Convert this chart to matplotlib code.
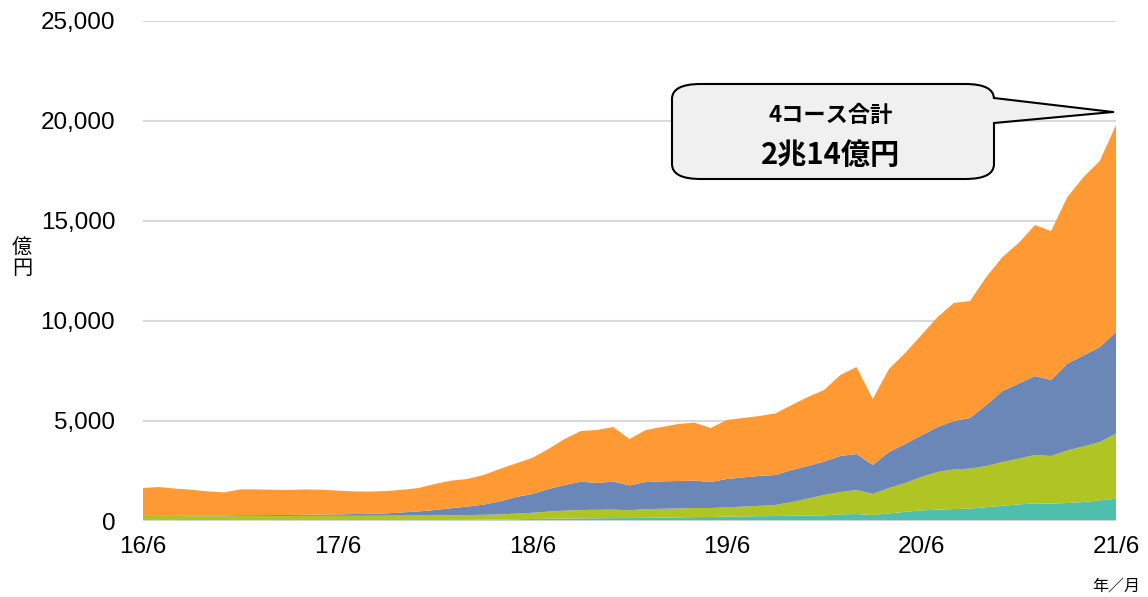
import matplotlib
matplotlib.use("Agg")
import matplotlib.pyplot as plt
import numpy as np
from matplotlib.patches import FancyBboxPatch, Polygon
from matplotlib.lines import Line2D

plt.rcParams['font.family'] = ['Liberation Sans', 'Noto Sans CJK JP', 'DejaVu Sans']

# monthly, 2016/6 .. 2021/6  (億円)
months = np.arange(61)
tick_pos = [0, 12, 24, 36, 48, 60]
tick_labels = ["16/6", "17/6", "18/6", "19/6", "20/6", "21/6"]

course_a = [20, 20, 20, 20, 20, 20, 22, 22, 24, 25, 26, 28, 30, 32, 34, 36, 40, 44, 48, 52,
            56, 62, 72, 85, 100, 112, 122, 130, 138, 145, 145, 160, 170, 180, 195, 200, 220, 230, 240, 250,
            262, 272, 285, 330, 350, 300, 380, 460, 530, 570, 600, 620, 690, 760, 830, 880, 870, 900, 950, 1030,
            1120]
course_b = [230, 230, 230, 225, 225, 220, 228, 228, 231, 230, 232, 232, 230, 230, 231, 232, 232, 234, 237, 243,
            244, 248, 258, 285, 310, 358, 398, 420, 422, 425, 395, 430, 440, 450, 455, 450, 460, 490, 520, 550,
            688, 848, 1015, 1120, 1200, 1050, 1270, 1440, 1670, 1880, 1980, 2000, 2060, 2190, 2290, 2420, 2380, 2630, 2780, 2920,
            3250]
course_c = [30, 30, 30, 35, 35, 40, 40, 40, 45, 45, 52, 60, 70, 88, 95, 112, 158, 202, 265, 345,
            420, 510, 650, 830, 940, 1130, 1280, 1420, 1340, 1400, 1240, 1360, 1370, 1370, 1370, 1300, 1420, 1460, 1490, 1500,
            1600, 1630, 1670, 1800, 1800, 1450, 1800, 1950, 2080, 2250, 2420, 2530, 3050, 3550, 3750, 3950, 3800, 4340, 4550, 4750,
            5080]
course_d = [1370, 1420, 1340, 1280, 1200, 1150, 1290, 1290, 1260, 1250, 1270, 1240, 1190, 1130, 1110, 1120, 1130, 1170, 1300, 1380,
            1380, 1480, 1620, 1680, 1800, 2000, 2300, 2530, 2650, 2730, 2320, 2600, 2720, 2850, 2900, 2700, 2950, 2970, 3000, 3080,
            3250, 3450, 3580, 4050, 4350, 3300, 4150, 4550, 5020, 5500, 5900, 5850, 6400, 6700, 7030, 7550, 7450, 8330, 8920, 9300,
            10350]

colors = ["#4FBFAD", "#B0C424", "#6A87B8", "#FF9933"]

W, H = 1148, 597
fig = plt.figure(figsize=(W / 100, H / 100), dpi=100)
ax = fig.add_axes([143 / W, 1 - 521 / H, (1116 - 143) / W, (521 - 21) / H])

ax.stackplot(months, course_a, course_b, course_c, course_d, colors=colors, linewidth=0, zorder=2)

ax.set_xlim(0, 60)
ax.set_ylim(0, 25000)
ax.set_yticks(range(0, 25001, 5000))
ax.set_yticklabels([f"{v:,}" for v in range(0, 25001, 5000)])
ax.set_xticks(tick_pos)
ax.set_xticklabels(tick_labels)
ax.tick_params(length=0, labelsize=17.5, colors="black")
ax.tick_params(axis="y", pad=20)
ax.tick_params(axis="x", pad=11)
ax.grid(axis="y", color="#D9D9D9", linewidth=1.5, zorder=0)
for s in ax.spines.values():
    s.set_visible(False)
ax.axhline(0, color="#D9D9D9", linewidth=2, zorder=3)

fig.text(22 / W, 1 - 258 / H, "億\n円", ha="center", va="center", fontsize=14.5,
         family=["Noto Sans CJK JP"], linespacing=1.0)
fig.text(1116 / W, 1 - 586 / H, "年／月", ha="center", va="center", fontsize=11.5,
         family=["Noto Sans CJK JP"])


# callout box (pixel coords of the image)
def px(x, y):
    return (x / W, 1 - y / H)


bx0, by0, bx1, by1 = 672, 84, 994, 179
box = FancyBboxPatch(px(bx0, by1), (bx1 - bx0) / W, (by1 - by0) / H,
                     boxstyle="round,pad=0,rounding_size=0.025",
                     transform=fig.transFigure, facecolor="#F0F0F0",
                     edgecolor="black", linewidth=1.5, zorder=5)
fig.add_artist(box)
tail = Polygon([px(990, 98), px(1113, 112), px(990, 123)], closed=True,
               transform=fig.transFigure, facecolor="#F0F0F0", edgecolor="none", zorder=6)
fig.add_artist(tail)
for (xa, ya) in [(994, 98), (994, 123)]:
    fig.add_artist(Line2D([xa / W, 1113 / W], [1 - ya / H, 1 - 112 / H],
                          transform=fig.transFigure, color="black", linewidth=1.5, zorder=7))

fig.text(*px(831, 116), "4コース合計", ha="center", va="center", fontsize=16,
         fontweight="bold", family=["Noto Sans CJK JP"], zorder=8)
fig.text(*px(831, 155), "2兆14億円", ha="center", va="center", fontsize=21,
         fontweight="bold", family=["Noto Sans CJK JP"], zorder=8)

fig.savefig("out.png", dpi=100)
